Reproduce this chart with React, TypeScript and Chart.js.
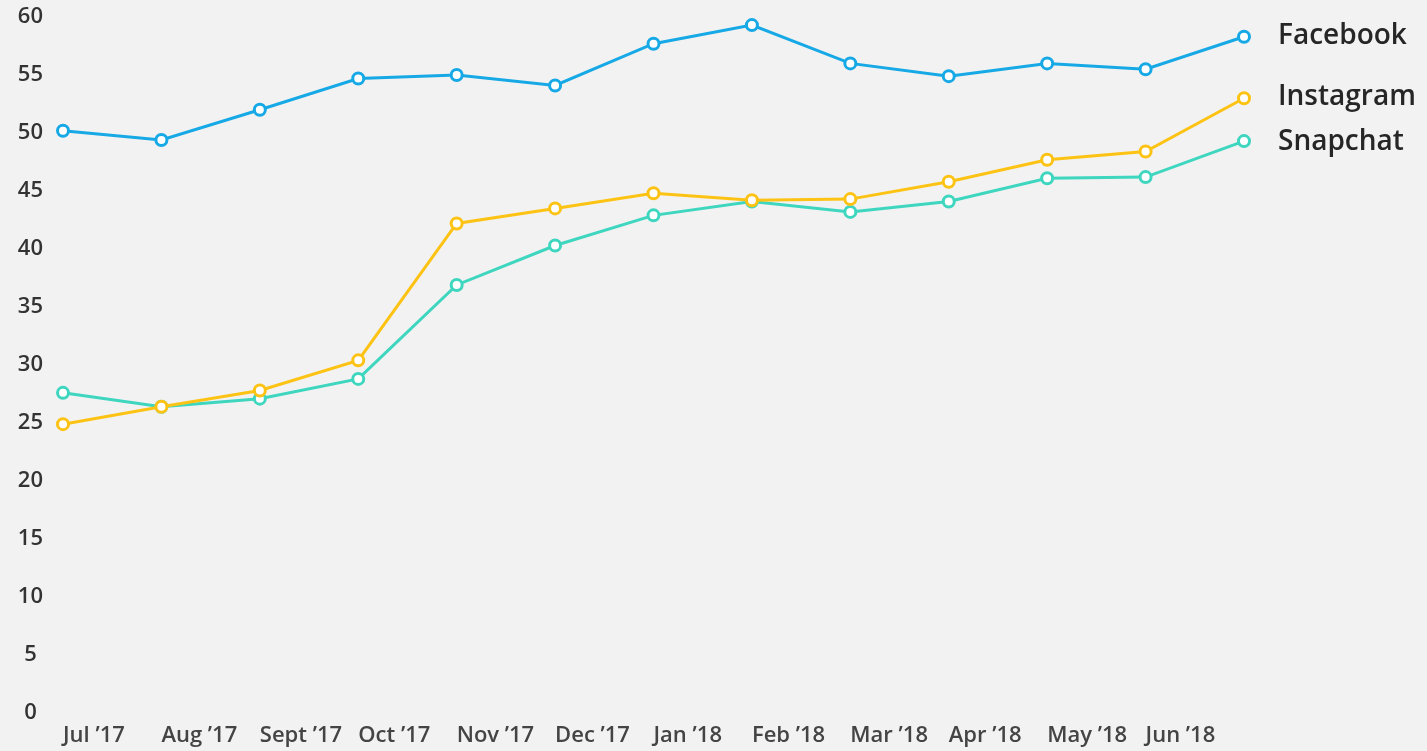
import React, { useEffect, useRef } from "react";
import { Chart, registerables } from "chart.js";

Chart.register(...registerables);

const categories = [
  "Jul '17", "Aug '17", "Sept '17", "Oct '17", "Nov '17", "Dec '17",
  "Jan '18", "Feb '18", "Mar '18", "Apr '18", "May '18", "Jun '18", "",
];
const tickLabels = categories.map((c) => c.replace("'", "\u2019"));

const facebook = [50.2, 49.4, 52.0, 54.7, 55.0, 54.1, 57.7, 59.3, 56.0, 54.9, 56.0, 55.5, 58.3];
const instagram = [24.9, 26.4, 27.8, 30.4, 42.2, 43.5, 44.8, 44.2, 44.3, 45.8, 47.7, 48.4, 53.0];
const snapchat = [27.6, 26.4, 27.1, 28.8, 36.9, 40.3, 42.9, 44.1, 43.2, 44.1, 46.1, 46.2, 49.3];
const seriesNames = ["Facebook", "Instagram", "Snapchat"];
const seriesColors = ["#16a9e6", "#fdc314", "#3ed6bf"];

const endLabelPlugin = {
  id: "endLabels",
  afterDatasetsDraw(chart: any) {
    const ctx = chart.ctx;
    const offsets = [-1, -1, 1];
    ctx.save();
    ctx.font = "600 28px 'Open Sans'";
    ctx.fillStyle = "#262626";
    ctx.textAlign = "left";
    ctx.textBaseline = "middle";
    chart.data.datasets.forEach((ds: any, i: number) => {
      const meta = chart.getDatasetMeta(i);
      const last = meta.data[meta.data.length - 1];
      if (!last) return;
      ctx.fillText(ds.label, last.x + 34, last.y + offsets[i]);
    });
    ctx.restore();
  },
};

export default function App() {
  const ref = useRef<HTMLCanvasElement | null>(null);
  useEffect(() => {
    if (!ref.current) return;
    const values = [facebook, instagram, snapchat];
    const chart = new Chart(ref.current, {
      type: "line",
      data: {
        labels: tickLabels,
        datasets: values.map((v, i) => ({
          label: seriesNames[i],
          data: v,
          borderColor: seriesColors[i],
          backgroundColor: "#ffffff",
          pointBackgroundColor: "#ffffff",
          pointBorderColor: seriesColors[i],
          pointBorderWidth: 3,
          pointRadius: 5.5,
          borderWidth: 3,
          tension: 0,
          fill: false,
        })),
      },
      options: {
        animation: false,
        responsive: false,
        maintainAspectRatio: false,
        layout: { padding: { left: 18, right: 183, top: 17, bottom: 2 } },
        plugins: { legend: { display: false }, tooltip: { enabled: false } },
        scales: {
          x: {
            offset: false,
            grid: { display: false, drawTicks: false },
            border: { display: false },
            afterFit: (s: any) => { s.height = 36; },
            ticks: {
              align: "start",
              autoSkip: false,
              maxRotation: 0,
              minRotation: 0,
              padding: 10,
              color: "#444444",
              font: { family: "'Open Sans'", size: 22, weight: "600" },
            },
          },
          y: {
            min: 0,
            max: 60,
            grid: { display: false, drawTicks: false },
            border: { display: false },
            afterFit: (s: any) => {
              s.width = 45;
              s.paddingTop = 12;
              s.paddingBottom = 0;
            },
            ticks: {
              stepSize: 5,
              crossAlign: "center",
              padding: 20,
              color: "#333333",
              font: { family: "'Open Sans'", size: 22, weight: "600" },
            },
          },
        },
      },
      plugins: [endLabelPlugin],
    });
    return () => chart.destroy();
  }, []);
  return (
    <div style={{ position: "fixed", left: 0, top: 0, width: 1427, height: 751, background: "#f2f2f2" }}>
      <canvas ref={ref} width={1427} height={751} style={{ width: 1427, height: 751, display: "block" }} />
    </div>
  );
}
